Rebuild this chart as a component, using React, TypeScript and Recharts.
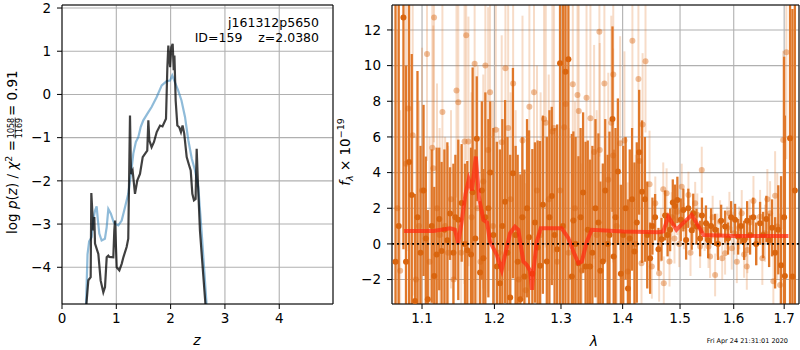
import React from 'react';
import { ComposedChart, Line, Scatter, ErrorBar, XAxis, YAxis, CartesianGrid, ReferenceLine } from 'recharts';

const FONT = "'DejaVu Sans', sans-serif";

// ---------- left panel: redshift PDF ----------
const Z_TICKS = [0, 1, 2, 3, 4];
const LOGP_TICKS = [-4, -3, -2, -1, 0, 1, 2];
const Z_DOMAIN: [number, number] = [0, 4.99];
const LOGP_DOMAIN: [number, number] = [-4.85, 2.07];

// smooth p(z) curve (blue)
const PZ_CURVE: [number, number][] = [
  [0.44, -5.0], [0.47, -3.7], [0.5, -3.4], [0.547, -3.3], [0.575, -2.9], [0.608, -2.69], [0.638, -2.59],
  [0.66, -2.9], [0.687, -3.22], [0.73, -3.38], [0.79, -3.34], [0.823, -3.07], [0.853, -2.65], [0.9, -2.76],
  [0.95, -2.95], [0.976, -2.99], [1.037, -3.03], [1.099, -2.92], [1.16, -2.61], [1.22, -2.3], [1.27, -1.84],
  [1.313, -1.37], [1.36, -1.1], [1.405, -0.99], [1.45, -0.75], [1.497, -0.6], [1.59, -0.41], [1.65, -0.29],
  [1.744, -0.06], [1.836, 0.21], [1.928, 0.31], [1.99, 0.32], [2.03, 0.44], [2.08, 0.28], [2.14, 0.09],
  [2.2, -0.14], [2.265, -0.52], [2.326, -1.06], [2.39, -1.49], [2.45, -1.76], [2.51, -2.15], [2.573, -3.22],
  [2.615, -4.0], [2.67, -5.0],
];

// chi2-based curve (dark)
const CHI2_CURVE: [number, number][] = [
  [0.44, -5.0], [0.485, -4.3], [0.528, -4.23], [0.54, -2.28], [0.577, -3.15], [0.595, -2.84], [0.608, -3.45],
  [0.669, -3.69], [0.712, -4.31], [0.761, -4.58], [0.792, -4.46], [0.823, -3.77], [0.853, -3.73], [0.87, -3.76],
  [0.945, -3.77], [0.963, -3.15], [0.976, -2.92], [1.007, -4.0], [1.056, -4.07], [1.099, -3.92], [1.13, -3.77],
  [1.19, -3.53], [1.22, -3.34], [1.252, -0.49], [1.27, -1.84], [1.3, -1.76], [1.344, -2.3], [1.387, -1.99],
  [1.436, -1.84], [1.486, -1.45], [1.547, -1.34], [1.57, -1.3], [1.59, -0.6], [1.608, -1.06], [1.65, -1.22],
  [1.694, -1.1], [1.744, -0.87], [1.805, -0.72], [1.85, -0.74], [1.915, -0.56], [1.94, 0.63], [1.958, 1.13],
  [1.99, 0.63], [2.013, 1.09], [2.038, 1.17], [2.057, 0.56], [2.07, 0.9], [2.093, -0.14], [2.124, -0.72],
  [2.16, -0.76], [2.19, -0.87], [2.22, -0.72], [2.25, -0.9], [2.296, -1.45], [2.34, -1.64], [2.37, -1.76],
  [2.4, -2.3], [2.43, -2.45], [2.46, -2.42], [2.48, -1.26], [2.5, -1.95], [2.54, -3.15], [2.59, -4.0], [2.65, -5.0],
];

// ---------- right panel: spectrum ----------
const WAVE_TICKS = [1.1, 1.2, 1.3, 1.4, 1.5, 1.6, 1.7];
const FLUX_TICKS = [-2, 0, 2, 4, 6, 8, 10, 12];
const WAVE_DOMAIN: [number, number] = [1.061, 1.7306];
const FLUX_DOMAIN: [number, number] = [-3.37, 13.4];

// [wavelength, flux, error] — opaque beam
const SPEC_A: [number, number, number][] = [
  [1.0655, -1.0, 15], [1.0696, 1.0, 14], [1.0757, 12.7, 13], [1.079, -1.0, 11], [1.083, 4.6, 11],
  [1.0865, 2.75, 7.9], [1.0908, -3.2, 6], [1.094, 1.5, 8.2], [1.098, -0.5, 6], [1.102, 3.0, 4.8],
  [1.105, 0.3, 4.6], [1.1076, -3.1, 5], [1.1129, 1.0, 4.3], [1.1163, -1.8, 5], [1.1195, -0.6, 6],
  [1.123, 1.4, 4], [1.1262, -0.4, 5], [1.13, 0.8, 4.5], [1.134, 0.2, 5.5], [1.1377, 1.7, 2.6],
  [1.1423, -0.5, 5], [1.145, 1.5, 3.5], [1.149, 1.35, 4.5], [1.1537, 2.3, 3.3], [1.1583, 0.0, 4.5],
  [1.1615, -0.35, 5], [1.1667, -0.6, 6], [1.169, 2.9, 7], [1.1728, 0.3, 5], [1.1748, 5.9, 3.5],
  [1.1795, -1.6, 4], [1.182, 3.0, 5], [1.1842, -0.8, 5], [1.187, 1.5, 7], [1.1913, 2.0, 5],
  [1.194, 4.0, 4], [1.1985, 0.5, 6], [1.2035, -1.27, 7], [1.208, -2.2, 7.5], [1.2115, 1.0, 6],
  [1.2155, 2.37, 5.7], [1.219, -0.5, 6.5], [1.223, -3.0, 8], [1.227, 3.97, 5.9], [1.231, 0.5, 5],
  [1.234, -1.0, 6], [1.238, -3.1, 7], [1.241, 1.5, 4.5], [1.244, -1.83, 6], [1.248, 2.0, 5],
  [1.251, 0.37, 6], [1.256, -1.68, 7], [1.26, 1.2, 4.5], [1.264, -0.2, 6], [1.2677, -1.23, 7],
  [1.272, 2.2, 5], [1.278, -0.99, 7], [1.282, 1.5, 6], [1.2857, 2.69, 5], [1.29, 0.5, 6],
  [1.294, -0.3, 7], [1.2985, 10.13, 14], [1.303, 1.0, 13], [1.307, 9.65, 14], [1.3116, 10.36, 14],
  [1.317, -1.83, 8], [1.3195, 1.31, 5], [1.323, 0.0, 6], [1.3275, -1.08, 6], [1.331, 1.5, 5],
  [1.335, 2.88, 4.5], [1.339, -1.27, 7], [1.3425, 0.8, 5], [1.3463, -1.27, 6], [1.35, -0.5, 6],
  [1.355, 2.0, 5], [1.3598, 1.2, 5], [1.363, -1.5, 5], [1.367, -0.99, 5.5], [1.371, 3.0, 4],
  [1.375, 0.0, 5], [1.378, 0.5, 5.8], [1.383, 7.0, 5.2], [1.385, -0.71, 6], [1.388, 1.5, 5],
  [1.392, 4.06, 4.1], [1.397, -1.68, 5], [1.401, 0.5, 5], [1.405, 2.0, 4], [1.409, -2.5, 5],
  [1.412, 0.3, 5], [1.416, 2.5, 4], [1.42, -0.43, 5], [1.424, 1.2, 4.5], [1.428, 5.14, 3.5],
  [1.433, 2.93, 4], [1.438, 2.5, 3.5], [1.442, 0.5, 3], [1.447, -0.8, 2], [1.451, 1.0, 1.6],
  [1.4557, 1.5, 1.3], [1.4616, -0.3, 1.2], [1.467, 0.26, 1.2], [1.4733, 1.6, 1.4], [1.4777, 0.5, 1.2],
  [1.4822, 0.79, 1.2], [1.487, 2.32, 1.3], [1.491, 2.13, 1.2], [1.4952, 2.47, 1.3], [1.5013, 1.35, 1.2],
  [1.506, 1.9, 1.2], [1.511, 0.22, 1.1], [1.515, 2.0, 1.1], [1.5212, 0.77, 1.1], [1.524, 1.72, 1.1],
  [1.53, 0.97, 1.0], [1.5366, 0.3, 1.0], [1.54, 1.6, 1.0], [1.5475, 1.16, 1.0], [1.5516, 0.2, 1.0],
  [1.557, 1.0, 1.0], [1.5646, 0.79, 0.9], [1.57, 0.0, 0.9], [1.576, 1.3, 0.9], [1.5835, 0.97, 0.9],
  [1.589, 0.3, 0.9], [1.595, 1.5, 0.9], [1.6026, 1.35, 0.9], [1.6085, 0.4, 1.0], [1.614, 1.0, 1.0],
  [1.6202, 0.2, 1.1], [1.626, 1.3, 1.1], [1.6318, 0.5, 1.1], [1.638, 1.5, 1.1], [1.6437, 0.0, 1.2],
  [1.6515, 1.16, 1.2], [1.6575, 0.5, 1.3], [1.664, 1.4, 1.3], [1.6695, 0.2, 1.5], [1.6755, 0.9, 1.6],
  [1.6816, -0.5, 2.0], [1.688, 0.79, 2.5], [1.6937, -1.2, 5], [1.6999, 1.5, 9], [1.7015, -1.8, 9],
  [1.7121, 5.93, 15], [1.717, -1.83, 15], [1.722, 3.0, 13],
];

// [wavelength, flux, error] — translucent beam
const SPEC_B: [number, number, number][] = [
  [1.068, 2.0, 10], [1.0715, -1.5, 9], [1.079, 4.5, 9], [1.082, 7.6, 8], [1.0877, 6.1, 9],
  [1.092, -2.0, 8], [1.096, 1.0, 7], [1.1, 3.0, 8], [1.1066, 10.65, 6], [1.11, -1.0, 7],
  [1.1137, 5.4, 9], [1.115, 4.25, 8], [1.116, 12.7, 7], [1.12, 2.0, 7], [1.1235, 0.5, 6],
  [1.1273, 7.4, 7], [1.131, 1.0, 5], [1.135, -0.5, 6], [1.139, 2.5, 5], [1.1425, -2.0, 6],
  [1.1465, 8.6, 6], [1.149, 7.95, 7], [1.153, -0.5, 6], [1.1577, 5.75, 8], [1.16, 11.7, 7],
  [1.1631, 5.75, 7], [1.1675, 1.5, 7], [1.1718, 10.1, 6], [1.176, 2.0, 8], [1.18, -1.0, 7],
  [1.184, 3.5, 6], [1.187, 10.0, 7], [1.191, 5.27, 8], [1.1937, 8.5, 7], [1.198, 1.0, 7],
  [1.202, 6.4, 7], [1.206, -0.5, 7], [1.2106, 5.7, 6], [1.216, 9.85, 7], [1.22, 6.5, 8],
  [1.2235, 2.5, 6], [1.2273, 9.0, 7], [1.231, 0.5, 7], [1.2355, -2.0, 6], [1.2412, 5.8, 7],
  [1.246, -2.6, 6], [1.2515, 7.7, 7], [1.2585, 8.5, 8], [1.263, 3.0, 7], [1.2685, 0.5, 8],
  [1.2738, 7.0, 8], [1.2764, 6.8, 7], [1.281, 2.5, 7], [1.2866, 6.3, 8], [1.2892, 6.5, 7],
  [1.294, -1.0, 7], [1.2985, 3.0, 9], [1.305, 6.55, 8], [1.3075, 7.85, 7], [1.312, -0.5, 7],
  [1.3186, 8.95, 7], [1.322, 2.0, 6], [1.326, 8.35, 7], [1.328, 7.45, 6], [1.333, -1.5, 6],
  [1.3405, 8.2, 6], [1.3468, 7.05, 7], [1.3528, 5.16, 6], [1.357, 0.5, 7], [1.3614, 11.9, 7],
  [1.362, 5.27, 6], [1.3696, 9.0, 7], [1.376, 3.6, 6], [1.381, 6.8, 6], [1.384, 4.96, 6],
  [1.3843, 9.5, 6], [1.39, 1.0, 5], [1.3958, 5.65, 6], [1.403, 5.8, 5], [1.4085, -1.55, 5],
  [1.4165, 11.4, 5], [1.422, 0.0, 5], [1.4268, 9.25, 5], [1.4285, 4.65, 4], [1.4321, -1.08, 4],
  [1.434, 6.7, 4], [1.439, 10.25, 4], [1.446, 3.35, 3], [1.45, -1.27, 1.8], [1.456, 2.28, 1.5],
  [1.4628, -1.64, 1.6], [1.466, 0.5, 1.5], [1.47, 3.07, 1.5], [1.471, -2.2, 1.5], [1.476, 2.84, 1.4],
  [1.4811, -0.99, 1.4], [1.485, 1.5, 1.4], [1.49, 0.3, 1.4], [1.495, 1.8, 1.3], [1.4985, 0.0, 1.3],
  [1.503, 3.2, 1.3], [1.507, 1.0, 1.3], [1.5152, 2.75, 1.3], [1.519, -0.5, 1.3], [1.5235, 1.2, 1.2],
  [1.5275, 2.28, 1.2], [1.5315, 1.63, 1.2], [1.5366, -0.15, 1.2], [1.5397, 4.15, 1.3], [1.545, 0.8, 1.2],
  [1.5522, -0.15, 1.2], [1.5552, -0.71, 1.2], [1.56, 1.5, 1.2], [1.5646, -1.74, 1.2], [1.569, 0.5, 1.2],
  [1.574, 1.25, 1.2], [1.578, -0.8, 1.2], [1.5835, -0.52, 1.2], [1.5875, 0.9, 1.2], [1.5917, 1.72, 1.2],
  [1.5963, -0.24, 1.2], [1.601, 0.6, 1.2], [1.606, -1.0, 1.2], [1.6105, 0.9, 1.2], [1.6155, 1.72, 1.3],
  [1.62, -0.6, 1.3], [1.6254, -1.27, 1.3], [1.6266, -0.34, 1.3], [1.631, 1.2, 1.3], [1.6384, 2.41, 1.4],
  [1.645, 0.22, 1.4], [1.6515, 1.53, 1.5], [1.656, -0.8, 1.5], [1.6614, 0.6, 1.6], [1.666, 2.5, 1.7],
  [1.6715, 1.72, 1.8], [1.6781, -2.1, 2], [1.6816, 2.7, 2.5], [1.686, 0.97, 3], [1.6917, -2.3, 4],
  [1.698, 5.83, 5], [1.7045, 10.75, 6],
];

// best-fit model (red)
const MODEL: [number, number][] = [
  [1.0765, 0.73], [1.1, 0.73], [1.115, 0.73], [1.13, 0.82], [1.1377, 0.88], [1.1443, 0.8], [1.149, 0.04],
  [1.1537, 1.25], [1.159, 2.8], [1.1635, 3.6], [1.168, 3.0], [1.1735, 4.9], [1.178, 2.6], [1.1842, 1.35],
  [1.1895, 1.2], [1.1937, 0.13], [1.2034, -0.62], [1.2106, -1.46], [1.2155, -0.62], [1.2228, 0.6],
  [1.23, 0.97], [1.235, 0.8], [1.2425, -0.99], [1.2476, -1.18], [1.2525, -1.5], [1.2555, -2.58],
  [1.2575, -1.55], [1.2627, 0.13], [1.2688, 0.88], [1.2935, 0.88], [1.301, 0.88], [1.3116, 0.32],
  [1.3195, -0.43], [1.3275, -1.08], [1.3329, -0.99], [1.341, 0.13], [1.349, 0.79], [1.4013, 0.69],
  [1.4616, 0.65], [1.47, 0.7], [1.479, 1.53], [1.4935, 0.79], [1.5, 1.0], [1.5212, 1.63], [1.543, 0.5],
  [1.6, 0.45], [1.65, 0.45], [1.7088, 0.45],
];

// error bars limited to the visible flux range (matplotlib clips them at the axes)
const toSpec = ([w, f, e]: [number, number, number]) => ({
  w, f, e: [Math.min(e, f - FLUX_DOMAIN[0]), Math.min(e, FLUX_DOMAIN[1] - f)],
});

const pzData = PZ_CURVE.map(([z, v]) => ({ z, v }));
const chiData = CHI2_CURVE.map(([z, v]) => ({ z, v }));
const specA = SPEC_A.map(toSpec);
const specB = SPEC_B.map(toSpec);
const modelData = MODEL.map(([w, f]) => ({ w, f }));

const fmt = (v: number) => String(v).replace('-', '\u2212');
const tickStyle = { fill: '#000', fontSize: 13.5, fontFamily: FONT };

const DarkDot = (p: any) => <circle cx={p.cx} cy={p.cy} r={3} fill="#d9650f" />;
const LightDot = (p: any) => <circle cx={p.cx} cy={p.cy} r={3} fill="#d9650f" fillOpacity={0.42} />;

function LeftPanel() {
  return (
    <ComposedChart width={800} height={350} margin={{ top: 4, left: 22, right: 466, bottom: 16 }}
      style={{ position: 'absolute', left: 0, top: 0 }}>
      <CartesianGrid stroke="#b0b0b0" strokeWidth={1.1} />
      <XAxis type="number" dataKey="z" domain={Z_DOMAIN} ticks={Z_TICKS} allowDataOverflow interval={0}
        height={30} tickSize={5} tickMargin={4} stroke="#000" tick={tickStyle} tickFormatter={fmt} />
      <YAxis type="number" domain={LOGP_DOMAIN} ticks={LOGP_TICKS} allowDataOverflow interval={0}
        width={40} tickSize={5} tickMargin={6} stroke="#000" tick={tickStyle} tickFormatter={fmt} />
      <XAxis xAxisId="t" orientation="top" type="number" domain={Z_DOMAIN} height={1} tick={false} tickLine={false} stroke="#000" />
      <YAxis yAxisId="r" orientation="right" type="number" domain={LOGP_DOMAIN} width={1} tick={false} tickLine={false} stroke="#000" />
      <Line data={pzData} dataKey="v" type="linear" stroke="#1f77b4" strokeOpacity={0.5} strokeWidth={2.2}
        dot={false} activeDot={false} isAnimationActive={false} />
      <Line data={chiData} dataKey="v" type="linear" stroke="#000" strokeOpacity={0.75} strokeWidth={2.2}
        dot={false} activeDot={false} isAnimationActive={false} />
    </ComposedChart>
  );
}

function RightPanel() {
  return (
    <ComposedChart width={800} height={350} margin={{ top: 4, left: 352, right: 0, bottom: 16 }}
      style={{ position: 'absolute', left: 0, top: 0 }}>
      <CartesianGrid stroke="#b0b0b0" strokeWidth={1.1} />
      <XAxis type="number" dataKey="w" scale="log" domain={WAVE_DOMAIN} ticks={WAVE_TICKS} allowDataOverflow interval={0}
        height={30} tickSize={5} tickMargin={4} stroke="#000" tick={tickStyle} tickFormatter={fmt} />
      <YAxis type="number" dataKey="f" domain={FLUX_DOMAIN} ticks={FLUX_TICKS} allowDataOverflow interval={0}
        width={40} tickSize={5} tickMargin={6} stroke="#000" tick={tickStyle} tickFormatter={fmt} />
      <XAxis xAxisId="t" orientation="top" type="number" domain={WAVE_DOMAIN} height={1} tick={false} tickLine={false} stroke="#000" />
      <YAxis yAxisId="r" orientation="right" type="number" domain={FLUX_DOMAIN} width={1} tick={false} tickLine={false} stroke="#000" />
      <Scatter data={specA} shape={DarkDot} isAnimationActive={false} zIndex={600}>
        <ErrorBar dataKey="e" direction="y" width={0} stroke="#e0782a" strokeWidth={2.3} />
      </Scatter>
      <Scatter data={specB} shape={LightDot} isAnimationActive={false} zIndex={610}>
        <ErrorBar dataKey="e" direction="y" width={0} stroke="#e0782a" strokeOpacity={0.26} strokeWidth={2} />
      </Scatter>
      <Line data={modelData} dataKey="f" type="linear" stroke="#ff2a10" strokeOpacity={0.72} strokeWidth={4}
        dot={false} activeDot={false} isAnimationActive={false} zIndex={700} />
      <ReferenceLine y={0} stroke="#000" strokeDasharray="2 3" strokeWidth={1.6} zIndex={800} />
    </ComposedChart>
  );
}

function Labels() {
  return (
    <svg width={800} height={350} style={{ position: 'absolute', left: 0, top: 0, pointerEvents: 'none' }}
      fontFamily={FONT}>
      <text x={319} y={27} textAnchor="end" fontSize={12.5} fill="#000">j161312p5650</text>
      <text x={319} y={42} textAnchor="end" fontSize={12.5} fill="#000" style={{ whiteSpace: 'pre' }}>{'ID=159    z=2.0380'}</text>
      <text x={197} y={345} textAnchor="middle" fontSize={14} fontStyle="italic" fill="#000">z</text>
      <text x={594} y={346} textAnchor="middle" fontSize={14} fontStyle="italic" fill="#000">λ</text>
      <g transform="translate(17,128) rotate(-90)" fill="#000">
        <text x={-12} y={0} textAnchor="end" fontSize={13.5}>
          log <tspan fontStyle="italic">p</tspan>(<tspan fontStyle="italic">z</tspan>) / <tspan fontStyle="italic">χ</tspan>
          <tspan fontSize={9.5} dy={-5}>2</tspan><tspan dy={5}> =</tspan>
        </text>
        <text x={0} y={-3.2} textAnchor="middle" fontSize={8}>1058</text>
        <line x1={-10.5} x2={10.5} y1={-1.8} y2={-1.8} stroke="#000" strokeWidth={0.7} />
        <text x={0} y={4.6} textAnchor="middle" fontSize={8}>1169</text>
        <text x={12} y={0} textAnchor="start" fontSize={13.5}>= 0.91</text>
      </g>
      <g transform="translate(350,152) rotate(-90)" fill="#000">
        <text x={0} y={0} textAnchor="middle" fontSize={13.5}>
          <tspan fontStyle="italic">f</tspan><tspan fontSize={9.5} fontStyle="italic" dy={3}>λ</tspan>
          <tspan dy={-3}> × 10</tspan><tspan fontSize={9.5} dy={-6}>−19</tspan>
        </text>
      </g>
      <text x={788} y={343} textAnchor="end" fontSize={6.5} fill="#000">Fri Apr 24 21:31:01 2020</text>
    </svg>
  );
}

export default function App() {
  return (
    <div style={{ position: 'absolute', left: 0, top: 0, width: 800, height: 350, background: '#fff', fontFamily: FONT }}>
      <LeftPanel />
      <RightPanel />
      <Labels />
    </div>
  );
}
